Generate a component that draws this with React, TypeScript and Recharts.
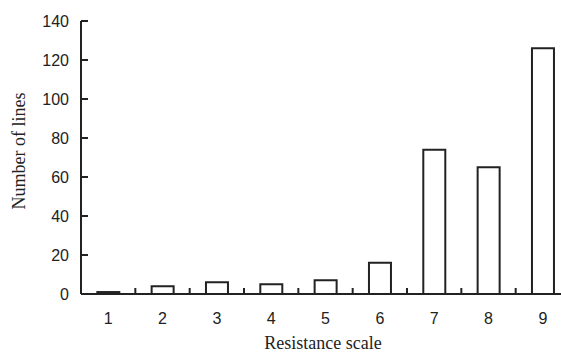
import React from "react";
import { BarChart, Bar, XAxis, YAxis, Label } from "recharts";

// resistance scale categories and the number of lines in each
const scales = ["1", "2", "3", "4", "5", "6", "7", "8", "9"];
const lineCounts = [1, 4, 6, 5, 7, 16, 74, 65, 126];
const yTicks = [0, 20, 40, 60, 80, 100, 120, 140];

const data = scales.map((s, i) => ({ scale: s, lines: lineCounts[i] }));

const INK = "#222";
const SANS = "'Liberation Sans', Arial, sans-serif";
const SERIF = "'Liberation Serif', 'Times New Roman', serif";

const CHART_W = 575;
const CHART_H = 356;
const LEFT = 81;
const RIGHT = 5;
const BAND = (CHART_W - LEFT - RIGHT) / scales.length;

function YTick(props: any) {
  const { x, y, payload } = props;
  return (
    <g>
      <path d={`M${x},${y}H${x + 7}`} stroke={INK} strokeWidth={2} fill="none" />
      <text x={x - 12} y={y} dy="0.36em" textAnchor="end" fontSize={16} fontFamily={SANS} fill={INK}>
        {payload.value}
      </text>
    </g>
  );
}

function XTick(props: any) {
  const { x, y, payload } = props;
  return (
    <g>
      <path d={`M${x + BAND / 2},${y}V${y - 6}`} stroke={INK} strokeWidth={2} fill="none" />
      <text x={x} y={y + 30} textAnchor="middle" fontSize={16} fontFamily={SANS} fill={INK}>
        {payload.value}
      </text>
    </g>
  );
}

export default function App() {
  return (
    <div
      style={{
        position: "absolute",
        left: 0,
        top: 0,
        width: 561,
        height: 356,
        overflow: "hidden",
        background: "#fff",
      }}
    >
      <BarChart
        width={CHART_W}
        height={CHART_H}
        data={data}
        margin={{ top: 21, right: RIGHT, bottom: 0, left: 0 }}
        barCategoryGap="30%"
      >
        <XAxis
          dataKey="scale"
          height={62}
          axisLine={{ stroke: INK, strokeWidth: 2 }}
          tickLine={false}
          tickSize={0}
          tickMargin={0}
          tick={<XTick />}
        >
          <Label
            content={() => (
              <text x={323} y={349} textAnchor="middle" fontSize={18} fontFamily={SERIF} fill={INK}>
                Resistance scale
              </text>
            )}
          />
        </XAxis>
        <YAxis
          width={LEFT}
          domain={[0, 140]}
          ticks={yTicks}
          interval={0}
          axisLine={{ stroke: INK, strokeWidth: 2 }}
          tickLine={false}
          tickSize={0}
          tickMargin={0}
          tick={<YTick />}
        >
          <Label
            content={() => (
              <text
                x={25}
                y={151}
                transform="rotate(-90 25 151)"
                textAnchor="middle"
                fontSize={18}
                fontFamily={SERIF}
                fill={INK}
              >
                Number of lines
              </text>
            )}
          />
        </YAxis>
        <Bar dataKey="lines" fill="#fff" stroke={INK} strokeWidth={2} isAnimationActive={false} />
      </BarChart>
    </div>
  );
}
